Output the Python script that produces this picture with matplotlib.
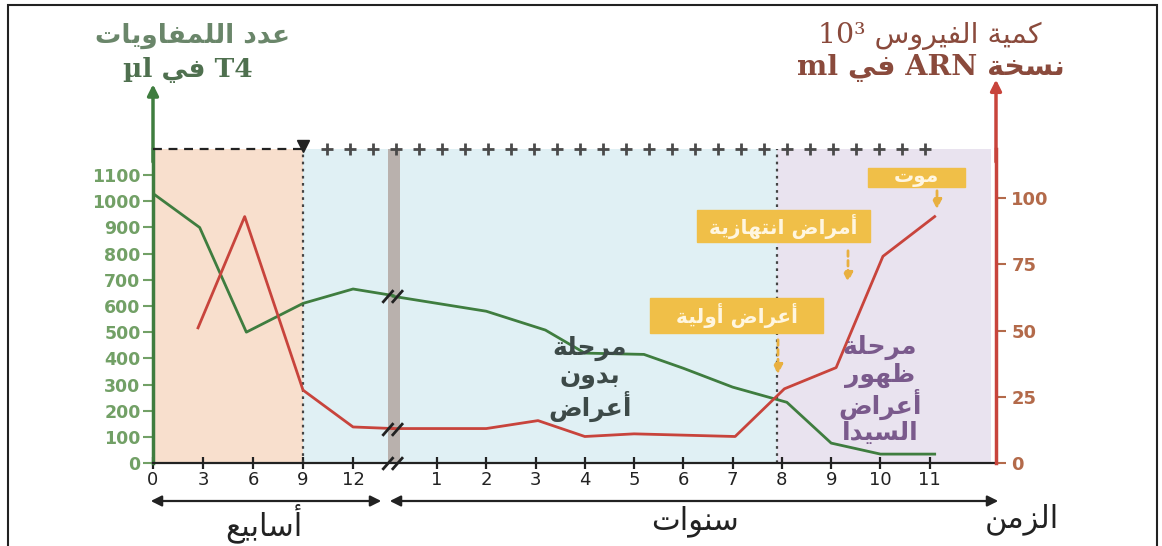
import numpy as np
import matplotlib
matplotlib.use("Agg")
from matplotlib import pyplot as plt
from matplotlib.path import Path
from matplotlib.patches import Rectangle, FancyArrowPatch

plt.rcParams['font.family'] = ['DejaVu Sans']

# --- data ---
# T4 lymphocytes per µl (left axis)
t4_weeks = [0, 2.8, 5.6, 9, 12, 14.4]
t4_weeks_val = [1030, 900, 500, 610, 665, 640]
t4_years = [0.11, 2, 3.2, 4, 5.2, 6, 7, 8.1, 9, 10, 11.1]
t4_years_val = [637, 580, 508, 420, 415, 362, 290, 232, 76, 34, 34]

# virus, 10^3 RNA copies per ml (right axis)
vir_weeks = [2.7, 5.5, 9, 12, 14.4]
vir_weeks_val = [51, 93, 27.5, 13.6, 13]
vir_years = [0.11, 2, 3.05, 4, 5, 7.05, 8.05, 9.1, 10.05, 11.1]
vir_years_val = [13, 13, 16, 10, 11, 10, 28, 36, 78, 93]

week_ticks = [0, 3, 6, 9, 12]
year_ticks = [1, 2, 3, 4, 5, 6, 7, 8, 9, 10, 11]
left_ticks = list(range(0, 1101, 100))
right_ticks = [0, 25, 50, 75, 100]

primo_end_week = 9
aids_start_year = 7.91

# --- crude arabic shaping (no reshaper lib available) ---
AR = {
    'ا': (0xFE8D, 0xFE8E), 'أ': (0xFE83, 0xFE84), 'آ': (0xFE81, 0xFE82),
    'د': (0xFEA9, 0xFEAA), 'ر': (0xFEAD, 0xFEAE), 'ز': (0xFEAF, 0xFEB0),
    'و': (0xFEED, 0xFEEE), 'ة': (0xFE93, 0xFE94),
    'ب': (0xFE8F, 0xFE90, 0xFE91, 0xFE92), 'ت': (0xFE95, 0xFE96, 0xFE97, 0xFE98),
    'ج': (0xFE9D, 0xFE9E, 0xFE9F, 0xFEA0), 'ح': (0xFEA1, 0xFEA2, 0xFEA3, 0xFEA4),
    'خ': (0xFEA5, 0xFEA6, 0xFEA7, 0xFEA8), 'س': (0xFEB1, 0xFEB2, 0xFEB3, 0xFEB4),
    'ض': (0xFEBD, 0xFEBE, 0xFEBF, 0xFEC0), 'ظ': (0xFEC5, 0xFEC6, 0xFEC7, 0xFEC8),
    'ع': (0xFEC9, 0xFECA, 0xFECB, 0xFECC), 'ف': (0xFED1, 0xFED2, 0xFED3, 0xFED4),
    'ك': (0xFED9, 0xFEDA, 0xFEDB, 0xFEDC), 'ل': (0xFEDD, 0xFEDE, 0xFEDF, 0xFEE0),
    'م': (0xFEE1, 0xFEE2, 0xFEE3, 0xFEE4), 'ن': (0xFEE5, 0xFEE6, 0xFEE7, 0xFEE8),
    'ه': (0xFEE9, 0xFEEA, 0xFEEB, 0xFEEC), 'ي': (0xFEF1, 0xFEF2, 0xFEF3, 0xFEF4),
}


def ar(text):
    out = []
    for i, c in enumerate(text):
        f = AR.get(c)
        if f is None:
            out.append(c)
            continue
        p = text[i - 1] if i > 0 else ''
        n = text[i + 1] if i + 1 < len(text) else ''
        jp = p in AR and len(AR[p]) == 4
        jn = len(f) == 4 and n in AR
        if jp and jn:
            code = f[3]
        elif jp:
            code = f[1]
        elif jn:
            code = f[2]
        else:
            code = f[0]
        out.append(chr(code))
    return ''.join(out)[::-1]


# broken time axis: weeks then years
YEAR0 = 14.08
YEAR_STEP = 2.956
BREAK_POS = 14.4


def ypos(y):
    return YEAR0 + YEAR_STEP * np.asarray(y, dtype=float)


W, H = 1162, 546


def fx(px):
    return px / W


def fy(py):
    return 1 - py / H


green = '#3f7d3f'
red = '#c8443c'
mixed = ['DejaVu Serif', 'DejaVu Sans']

fig = plt.figure(figsize=(11.62, 5.46), dpi=100)
fig.add_artist(Rectangle((fx(8), fy(560)), fx(1157) - fx(8), fy(5) - fy(560),
                         fill=False, ec='#222222', lw=1.5, transform=fig.transFigure))

ax = fig.add_axes([fx(153), fy(463), fx(996) - fx(153), fy(149) - fy(463)])
ax.set_xlim(0, 50.57)
ax.set_ylim(0, 1200)
ax2 = ax.twinx()
ax2.set_ylim(0, 118.5)

# background phases
ax.axvspan(0, primo_end_week, color='#f8dfcd', zorder=0, lw=0)
ax.axvspan(primo_end_week, ypos(aids_start_year), color='#e0f0f4', zorder=0, lw=0)
ax.axvspan(ypos(aids_start_year), 50.3, color='#e9e3ef', zorder=0, lw=0)
ax.axvspan(14.1, 14.8, ymin=-0.02, color='#b9b1ad', zorder=1, lw=0)
for xv in [primo_end_week, ypos(aids_start_year)]:
    ax.axvline(xv, color='#444444', lw=1.6, ls=(0, (1.2, 2)), zorder=2)

# top border of the phases
ax.plot([0, primo_end_week], [1200, 1200], color='#222222', lw=1.6, ls=(0, (4, 3)), clip_on=False, zorder=5)
ax.plot([primo_end_week], [1212], marker='v', ms=9, color='#222222', clip_on=False, zorder=6)
plus_x = np.arange(10.45, 47.6, 1.38)
ax.plot(plus_x, np.full(len(plus_x), 1200), ls='none', marker='+', ms=8, mew=2,
        color='#4a4a4a', clip_on=False, zorder=5)

# curves
ax.plot(t4_weeks, t4_weeks_val, color=green, lw=2, zorder=3)
ax.plot(ypos(t4_years), t4_years_val, color=green, lw=2, zorder=3)
ax2.plot(vir_weeks, vir_weeks_val, color=red, lw=2, zorder=3)
ax2.plot(ypos(vir_years), vir_years_val, color=red, lw=2, zorder=3)

# break marks
brk = Path([(-1.4, -0.8), (0.0, 0.8), (-0.2, -0.8), (1.2, 0.8)],
           [Path.MOVETO, Path.LINETO, Path.MOVETO, Path.LINETO])
ax.plot([BREAK_POS, BREAK_POS], [0, t4_weeks_val[-1]], ls='none', marker=brk, ms=16, mew=2,
        color='#222222', clip_on=False, zorder=6)
ax2.plot([BREAK_POS], [vir_weeks_val[-1]], ls='none', marker=brk, ms=16, mew=2,
         color='#222222', zorder=6)

# axes styling
for a in (ax, ax2):
    a.spines['top'].set_visible(False)
ax.spines['right'].set_visible(False)
ax2.spines['left'].set_visible(False)
ax.spines['left'].set_color(green)
ax.spines['left'].set_linewidth(2.5)
ax2.spines['right'].set_color(red)
ax2.spines['right'].set_linewidth(2.5)
ax.spines['bottom'].set_color('#222222')
ax.spines['bottom'].set_linewidth(1.6)
ax2.spines['bottom'].set_visible(False)

ax.set_yticks(left_ticks)
ax.set_yticklabels([str(v) for v in left_ticks], color='#72a066', fontsize=12.5, fontweight='bold')
ax.tick_params(axis='y', colors='#72a066', length=7, width=1.5, pad=2)
ax2.set_yticks(right_ticks)
ax2.set_yticklabels([str(v) for v in right_ticks], color='#b36a4a', fontsize=13, fontweight='bold')
ax2.tick_params(axis='y', colors='#b36a4a', length=7, width=1.5, pad=4)

xt = list(week_ticks) + list(ypos(year_ticks))
xl = [str(v) for v in week_ticks] + [str(v) for v in year_ticks]
ax.set_xticks(xt)
ax.set_xticklabels(xl, fontsize=13, color='#333333')
ax.tick_params(axis='x', direction='inout', length=8, width=1.6, colors='#222222', pad=2)

# axis arrows
ax.annotate('', xy=(0, 1.215), xytext=(0, 0.95), xycoords='axes fraction',
            arrowprops=dict(arrowstyle='-|>', color=green, lw=2.5, mutation_scale=16))
ax.annotate('', xy=(1, 1.23), xytext=(1, 0.95), xycoords='axes fraction',
            arrowprops=dict(arrowstyle='-|>', color=red, lw=2.5, mutation_scale=16))

# axis titles
fig.text(fx(192), fy(36), ar('عدد اللمفاويات'), ha='center', va='center', fontsize=19,
         fontweight='bold', color='#6a866a')
fig.text(fx(188), fy(70), 'µl ' + ar('في') + ' T4', ha='center', va='center', fontsize=19,
         fontweight='bold', color='#4f704f', family=mixed)
fig.text(fx(930), fy(36), '10³ ' + ar('كمية الفيروس'), ha='center', va='center', fontsize=20.5,
         color='#8a4a3c', family=mixed)
fig.text(fx(931), fy(68), 'ml ' + ar('في') + ' ARN ' + ar('نسخة'), ha='center', va='center',
         fontsize=20.5, fontweight='bold', color='#8a4a3c', family=mixed)

# phase labels
for i, w in enumerate(['مرحلة', 'بدون', 'أعراض']):
    fig.text(fx(590), fy(348 + 29 * i), ar(w), ha='center', va='center', fontsize=18,
             fontweight='bold', color='#3d4a48')
for i, w in enumerate(['مرحلة', 'ظهور', 'أعراض', 'السيدا']):
    fig.text(fx(880), fy(347 + 28.5 * i), ar(w), ha='center', va='center', fontsize=18,
             fontweight='bold', color='#7a5a8c')

# event boxes with arrows
boxes = [
    ('موت', 868, 168, 965, 187, 937, 188, 212),
    ('أمراض انتهازية', 697, 210, 870, 242, 848, 248, 285),
    ('أعراض أولية', 650, 298, 823, 333, 778, 337, 377),
]
for txt, x0, y0, x1, y1, axx, ay0, ay1 in boxes:
    fig.add_artist(Rectangle((fx(x0), fy(y1)), fx(x1) - fx(x0), fy(y0) - fy(y1),
                             color='#f0bf48', transform=fig.transFigure, zorder=5))
    fig.text(fx((x0 + x1) / 2), fy((y0 + y1) / 2), ar(txt), ha='center', va='center',
             fontsize=14.5, fontweight='bold', color='#fff6e0', zorder=6)
    fig.add_artist(FancyArrowPatch(
        (fx(axx), fy(ay0)), (fx(axx), fy(ay1)), transform=fig.transFigure,
        arrowstyle='-|>', mutation_scale=14, color='#e8b040', lw=2, ls=(0, (2, 1.5)), zorder=5))

# time arrows
fig.add_artist(FancyArrowPatch(
    (fx(148), fy(501)), (fx(384), fy(501)), transform=fig.transFigure,
    arrowstyle='<|-|>', mutation_scale=16, color='#222222', lw=1.6))
fig.add_artist(FancyArrowPatch(
    (fx(387), fy(501)), (fx(1001), fy(501)), transform=fig.transFigure,
    arrowstyle='<|-|>', mutation_scale=16, color='#222222', lw=1.6))
fig.text(fx(264), fy(523), ar('أسابيع'), ha='center', va='center', fontsize=22, color='#222222')
fig.text(fx(695), fy(521), ar('سنوات'), ha='center', va='center', fontsize=22, color='#222222')
fig.text(fx(1022), fy(519), ar('الزمن'), ha='center', va='center', fontsize=22, color='#222222')

plt.savefig("out.png", dpi=100)
